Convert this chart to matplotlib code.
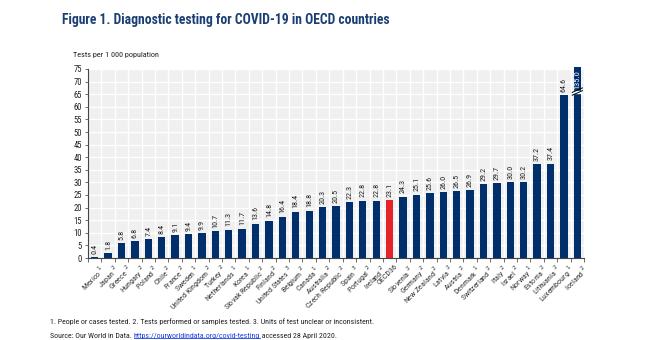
import matplotlib
matplotlib.use("Agg")
import matplotlib.pyplot as plt
from matplotlib import font_manager
from matplotlib.font_manager import FontProperties
from matplotlib.patches import Rectangle
from matplotlib.lines import Line2D

countries = ["Mexico", "Japan", "Greece", "Hungary", "Poland", "Chile", "France",
             "Sweden", "United Kingdom", "Turkey", "Netherlands", "Korea",
             "Slovak Republic", "Finland", "United States", "Belgium", "Canada",
             "Australia", "Czech Republic", "Spain", "Portugal", "Ireland", "OECD36",
             "Slovenia", "Germany", "New Zealand", "Latvia", "Austria", "Denmark",
             "Switzerland", "Italy", "Israel", "Norway", "Estonia", "Lithuania",
             "Luxembourg", "Iceland"]
notes = ["1", "2", "2", "2", "2", "2", "2", "1", "2", "2", "1", "1", "2", "2", "3",
         "2", "1", "2", "2", "3", "2", "2", "", "2", "2", "2", "2", "2", "1", "2",
         "2", "2", "1", "2", "2", "1", "2"]
tests_per_1000 = [0.4, 1.8, 5.8, 6.8, 7.4, 8.4, 9.1, 9.4, 9.9, 10.7, 11.3, 11.7,
                  13.6, 14.8, 16.4, 18.4, 18.8, 20.3, 20.5, 22.3, 22.8, 22.8, 23.1,
                  24.3, 25.1, 25.6, 26.0, 26.5, 26.9, 29.2, 29.7, 30.0, 30.2, 37.2,
                  37.4, 64.6, 135.0]
y_ticks = list(range(0, 80, 5))

NAVY = "#002F6C"
RED = "#E3242B"
TITLE = "#1B3F73"
TEXT = "#222222"


def narrow_font(bold=False):
    """Pick a condensed sans-serif face if one is installed."""
    cands = []
    for f in font_manager.fontManager.ttflist:
        key = (f.name + " " + f.fname).lower()
        if ("narrow" in key or "condensed" in key or f.stretch == "condensed") \
                and "mono" not in key and "serif" not in key.replace("sans-serif", ""):
            isbold = f.weight in ("bold", 700) or "bold" in key
            isital = f.style != "normal" or "oblique" in key or "italic" in key
            if isbold == bold and not isital:
                rank = 0 if "liberation" in key else (1 if "arial" in key else
                       (2 if "roboto" in key else 3))
                cands.append((rank, f.fname))
    if cands:
        cands.sort()
        return FontProperties(fname=cands[0][1])
    return FontProperties(family="Liberation Sans", weight="bold" if bold else "normal")


FP = narrow_font(False)
FPB = narrow_font(True)


def fp(size, base=FP):
    p = base.copy()
    p.set_size(size)
    return p


W, H = 661, 340
fig = plt.figure(figsize=(W / 100, H / 100), dpi=100)
fig.patch.set_facecolor("white")

ax = fig.add_axes([88 / W, 1 - 258 / H, (584 - 88) / W, (258 - 69) / H])
ax.set_facecolor("#F0F0F0")
ymax = y_ticks[-1]
ax.set_ylim(0, ymax)
n = len(countries)
ax.set_xlim(-0.5, n - 0.5)

# white grid: horizontal at ticks, vertical between categories
for yv in y_ticks[1:]:
    ax.axhline(yv, color="white", lw=1.0, zorder=1)
for i in range(n - 1):
    ax.axvline(i + 0.5, color="white", lw=1.0, zorder=1)

colors = [RED if c == "OECD36" else NAVY for c in countries]
bars = ax.bar(range(n), tests_per_1000, width=0.55, color=colors, zorder=2)

# the tallest bar runs past the top of the scale
clip = Rectangle((0, 0), 1, 1.012, transform=ax.transAxes)
for b, v in zip(bars, tests_per_1000):
    if v > ymax:
        b.set_clip_path(clip)

for i, v in enumerate(tests_per_1000):
    if v > ymax:
        ax.text(i, ymax - 0.6, f"{v:.1f}", rotation=90, ha="center", va="top",
                fontproperties=fp(6.0), color="white", zorder=4)
        # axis-break marker across the bar
        yb = ymax - 9.5
        ax.add_patch(Rectangle((i - 0.3, yb - 0.1), 0.6, 0.9, color="white",
                               zorder=4.5))
        for dy in (0.0, 1.1):
            ax.add_line(Line2D([i - 0.38, i + 0.38], [yb + dy - 0.9, yb + dy + 0.9],
                               color="black", lw=0.7, zorder=5, clip_on=False))
    else:
        ax.text(i, v + 1.3, f"{v:.1f}", rotation=90, ha="center", va="bottom",
                fontproperties=fp(5.9), color=TEXT, zorder=4)

ax.set_yticks(y_ticks)
ax.set_yticklabels([str(t) for t in y_ticks])
for lab in ax.get_yticklabels():
    lab.set_fontproperties(fp(6.2))
    lab.set_color(TEXT)
ax.tick_params(axis="y", length=2.5, width=0.6, color="#555555", pad=2)

ax.set_xticks([i + 0.5 for i in range(-1, n)], minor=False)
ax.set_xticklabels([])
ax.tick_params(axis="x", length=3, width=0.6, color="#555555")
labels = [c + (" $^{" + s + "}$" if s else "") for c, s in zip(countries, notes)]
for i, lab in enumerate(labels):
    ax.text(i + 0.35, -2.0, lab, rotation=45, ha="right", va="top",
            rotation_mode="anchor", fontproperties=fp(5.8), color="#333333")

for side in ("top", "right"):
    ax.spines[side].set_visible(False)
for side in ("left", "bottom"):
    ax.spines[side].set_color("#444444")
    ax.spines[side].set_linewidth(0.8)

fig.text(62 / W, 1 - 20 / H, "Figure 1. Diagnostic testing for COVID-19 in OECD countries",
         fontproperties=fp(9.8, FPB), color=TITLE, va="center", ha="left")
fig.text(73 / W, 1 - 55 / H, "Tests per 1 000 population", fontproperties=fp(5.9),
         color=TEXT, va="center", ha="left")

fig.text(50 / W, 1 - 322 / H,
         "1. People or cases tested. 2. Tests performed or samples tested. "
         "3. Units of test unclear or inconsistent.",
         fontproperties=fp(5.7), color=TEXT, va="center", ha="left")

# source line with a hyperlink-styled URL
renderer = fig.canvas.get_renderer()
yline = 1 - 336 / H
t1 = fig.text(50 / W, yline, "Source: Our World in Data. ", fontproperties=fp(5.7),
              color=TEXT, va="center", ha="left")
bb = t1.get_window_extent(renderer)
t2 = fig.text(bb.x1 / W, yline, "https://ourworldindata.org/covid-testing",
              fontproperties=fp(5.7), color="#1F3FE0", va="center", ha="left")
bb2 = t2.get_window_extent(renderer)
fig.add_artist(Line2D([bb2.x0 / W, bb2.x1 / W], [bb2.y0 / H + 0.004, bb2.y0 / H + 0.004],
                      color="#1F3FE0", lw=0.6, transform=fig.transFigure))
fig.text(bb2.x1 / W, yline, " accessed 28 April 2020.", fontproperties=fp(5.7),
         color=TEXT, va="center", ha="left")

fig.savefig("out.png", dpi=100)
